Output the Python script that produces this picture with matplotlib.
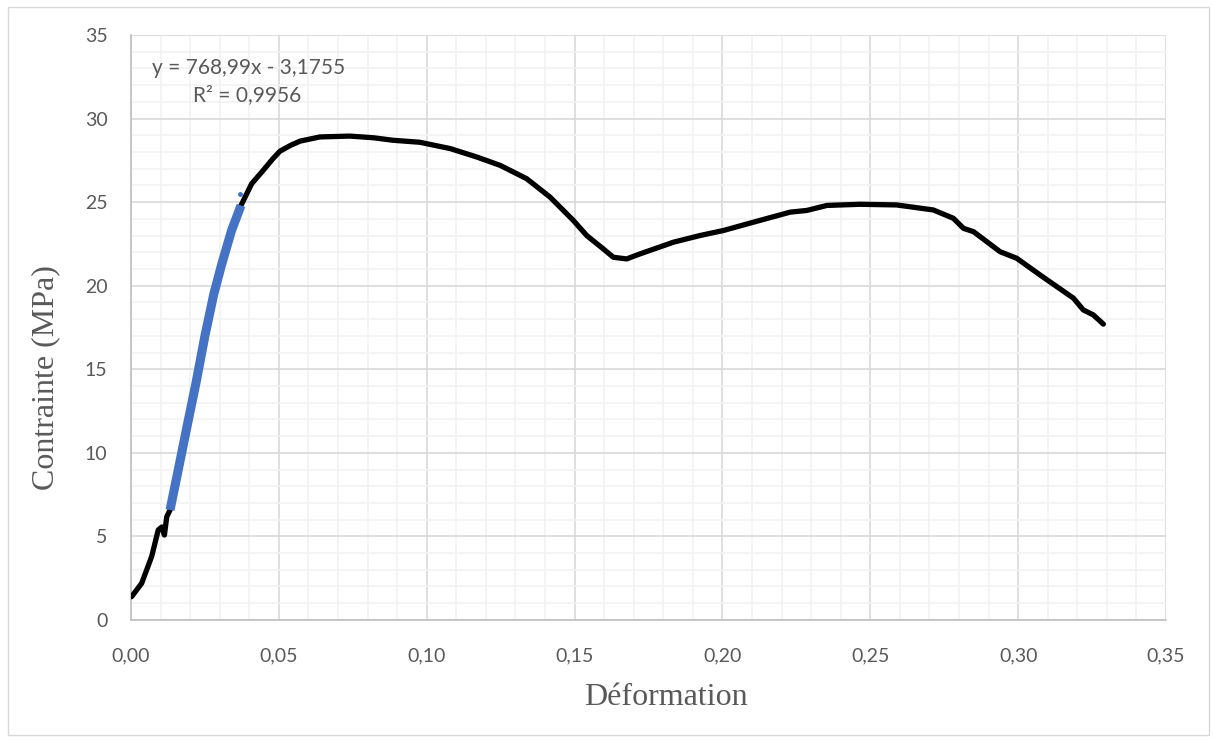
import matplotlib.pyplot as plt
from matplotlib.ticker import MultipleLocator, FuncFormatter
from matplotlib.patches import Rectangle

# stress-strain curve
deformation = [0.0002, 0.0036, 0.0070, 0.0092, 0.0104, 0.0113, 0.0121, 0.0132,
               0.0160, 0.0194, 0.0220, 0.0250, 0.0280, 0.0307, 0.0340, 0.0372,
               0.0408, 0.0447, 0.0480, 0.0504, 0.0540, 0.0572,
               0.0639, 0.0740, 0.0820, 0.0886, 0.0977, 0.1080, 0.1169, 0.1248,
               0.1338, 0.1417, 0.1496, 0.1541, 0.1597, 0.1631, 0.1676, 0.1721,
               0.1834, 0.1924, 0.2003, 0.2105, 0.2229, 0.2285, 0.2353, 0.2465,
               0.2589, 0.2713, 0.2781, 0.2815, 0.2849, 0.2894, 0.2939, 0.2995,
               0.3074, 0.3187, 0.3220, 0.3254, 0.3288]
contrainte = [1.39, 2.19, 3.80, 5.38, 5.56, 5.08, 6.18, 6.58,
              9.00, 11.97, 14.20, 17.00, 19.50, 21.30, 23.30, 24.80,
              26.10, 26.90, 27.60, 28.05, 28.40, 28.65,
              28.90, 28.95, 28.85, 28.70, 28.58, 28.20, 27.70, 27.20,
              26.40, 25.30, 23.90, 23.00, 22.20, 21.70, 21.60, 21.90,
              22.60, 23.00, 23.30, 23.80, 24.40, 24.50, 24.80, 24.87,
              24.83, 24.53, 24.03, 23.43, 23.23, 22.63, 22.03, 21.64,
              20.64, 19.25, 18.55, 18.25, 17.70]

# linear part used for the fit
lin_x = [0.0132, 0.0160, 0.0194, 0.0220, 0.0250, 0.0280, 0.0307, 0.0340, 0.0372]
lin_y = [6.58, 9.00, 11.97, 14.20, 17.00, 19.50, 21.30, 23.30, 24.80]

equation = "y = 768,99x - 3,1755"
r2 = "R² = 0,9956"

gray = "#595959"
tick_font = "Lato"
label_font = "Liberation Serif"

fig = plt.figure(figsize=(12.13, 7.38), dpi=100)
ax = fig.add_axes([0.108, 0.16, 0.8533, 0.7926])

ax.plot(deformation, contrainte, color="black", lw=3.8, solid_capstyle="round",
        solid_joinstyle="round", zorder=3)
ax.plot(lin_x, lin_y, color="#4472c4", lw=6.5, solid_capstyle="butt",
        solid_joinstyle="round", zorder=4)
ax.plot([0.0369], [25.5], "o", color="#4472c4", ms=2.5, zorder=4)

ax.set_xlim(0, 0.35)
ax.set_ylim(0, 35)
ax.xaxis.set_major_locator(MultipleLocator(0.05))
ax.xaxis.set_minor_locator(MultipleLocator(0.01))
ax.yaxis.set_major_locator(MultipleLocator(5))
ax.yaxis.set_minor_locator(MultipleLocator(1))
ax.xaxis.set_major_formatter(FuncFormatter(lambda v, p: f"{v:.2f}".replace(".", ",")))
ax.yaxis.set_major_formatter(FuncFormatter(lambda v, p: f"{v:.0f}"))

ax.grid(which="major", color="#d9d9d9", lw=1.2, zorder=1)
ax.grid(which="minor", color="#f2f2f2", lw=1.2, zorder=0)
ax.set_axisbelow(True)
ax.tick_params(which="both", length=0)
ax.tick_params(axis="x", pad=20, labelsize=14, labelcolor=gray)
ax.tick_params(axis="y", pad=17, labelsize=14, labelcolor=gray)
for lab in ax.get_xticklabels() + ax.get_yticklabels():
    lab.set_fontfamily(tick_font)

for side in ["top", "right"]:
    ax.spines[side].set_visible(False)
for side in ["left", "bottom"]:
    ax.spines[side].set_color("#bfbfbf")
    ax.spines[side].set_linewidth(1.2)

ax.set_xlabel("Déformation", fontfamily=label_font, fontsize=23, color=gray)
ax.set_ylabel("Contrainte (MPa)", fontfamily=label_font, fontsize=23, color=gray)
ax.xaxis.set_label_coords(0.517, -0.107)
ax.yaxis.set_label_coords(-0.068, 0.414)

ax.text(0.0072, 33.0, equation, fontfamily=tick_font, fontsize=15, color=gray,
        ha="left", va="center")
ax.text(0.0393, 31.4, r2, fontfamily=tick_font, fontsize=15, color=gray,
        ha="center", va="center")

# chart area border
fig.patches.append(Rectangle((0.007, 0.004), 0.99, 0.986, transform=fig.transFigure,
                             fill=False, edgecolor="#d9d9d9", lw=1))

fig.savefig("out.png", dpi=100)
